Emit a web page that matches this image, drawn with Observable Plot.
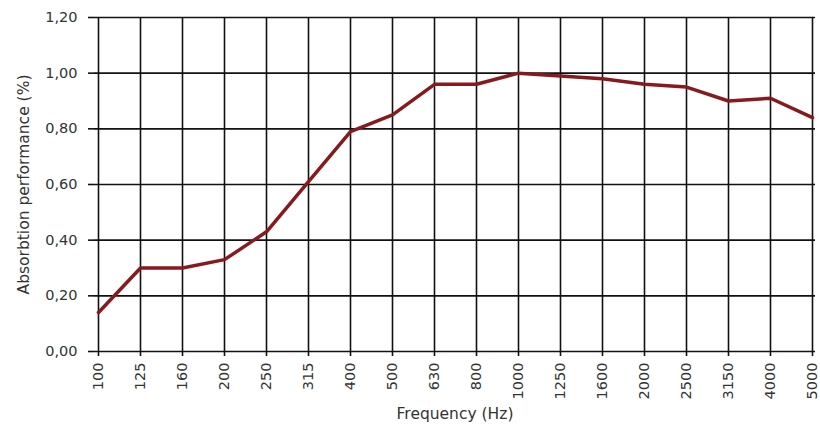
<!DOCTYPE html>
<html>
<head>
<meta charset="utf-8">
<script src="https://cdn.jsdelivr.net/npm/d3@7"></script>
<script src="https://cdn.jsdelivr.net/npm/@observablehq/plot@0.6"></script>
<style>
  html, body { margin: 0; padding: 0; background: #fff; }
  svg { font-family: "DejaVu Sans", sans-serif; }
  svg g[aria-label="y-axis label"] text, svg g[aria-label="x-axis label"] text { font-size: 15.5px; }
</style>
</head>
<body>
<div id="chart"></div>
<script>
const frequencies = ["100","125","160","200","250","315","400","500","630","800","1000","1250","1600","2000","2500","3150","4000","5000"];
const absorption = [0.14,0.30,0.30,0.33,0.43,0.61,0.79,0.85,0.96,0.96,1.00,0.99,0.98,0.96,0.95,0.90,0.91,0.84];
const yTicks = [0,0.2,0.4,0.6,0.8,1.0,1.2];

const data = frequencies.map((f, i) => ({f, v: absorption[i]}));
const fmt = d => d.toFixed(2).replace(".", ",");

const chart = Plot.plot({
  width: 820,
  height: 428,
  marginLeft: 94,
  marginRight: 5,
  marginTop: 17,
  marginBottom: 77,
  style: {fontSize: "14.5px", color: "#333", background: "#fff"},
  x: {type: "point", domain: frequencies, padding: 0},
  y: {domain: [0, 1.2]},
  marks: [
    Plot.ruleX(frequencies, {x: d => d, stroke: "#111", strokeWidth: 1.6}),
    Plot.ruleY(yTicks, {y: d => d, stroke: "#111", strokeWidth: 1.6}),
    Plot.axisY({ticks: yTicks, tickFormat: fmt, tickSize: 6, tickPadding: 11, stroke: "#111", strokeWidth: 1.6,
      label: "Absorbtion performance (%)", labelAnchor: "center", labelArrow: "none", labelOffset: 77, fill: "#333"}),
    Plot.axisX({tickRotate: -90, tickSize: 5, tickPadding: 6, stroke: "#111", strokeWidth: 1.6,
      label: "Frequency (Hz)", labelAnchor: "center", labelArrow: "none", labelOffset: 67, fill: "#333"}),
    Plot.line(data, {x: "f", y: "v", stroke: "#861a1e", strokeWidth: 3.5, strokeLinejoin: "round"})
  ]
});
document.getElementById("chart").appendChild(chart);
</script>
</body>
</html>
